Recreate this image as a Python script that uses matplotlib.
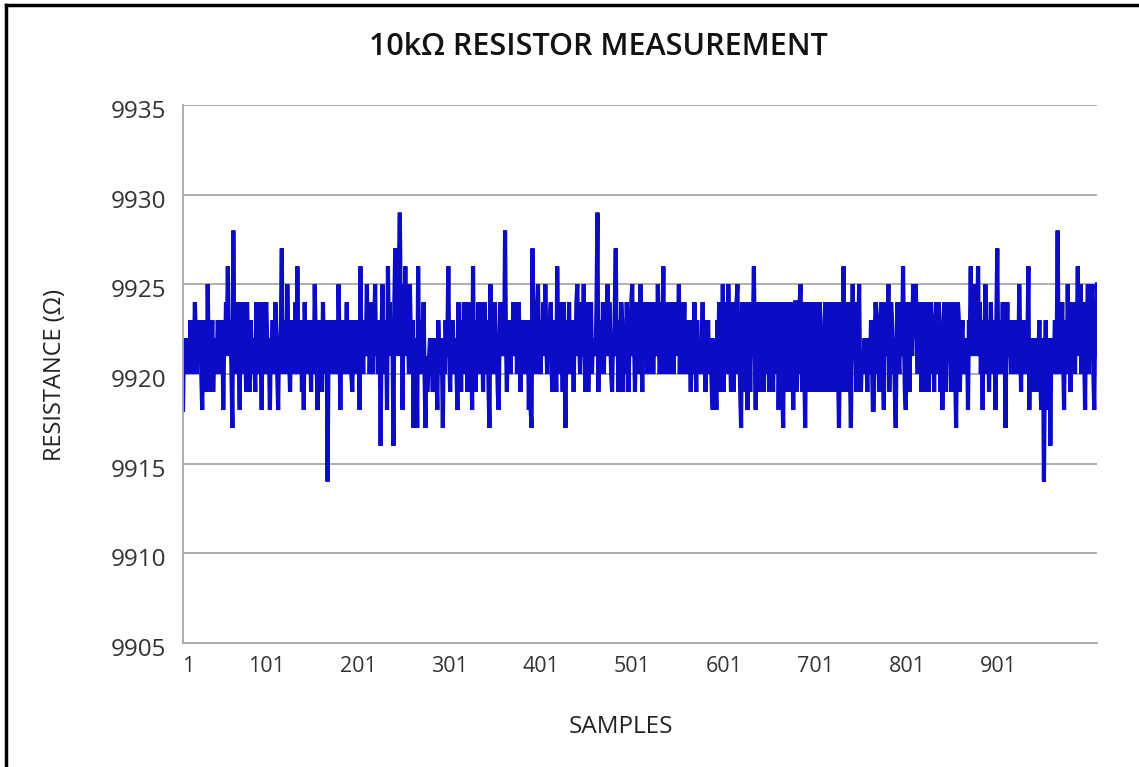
import matplotlib
matplotlib.use("Agg")
import matplotlib.pyplot as plt
from matplotlib.lines import Line2D
from matplotlib.transforms import ScaledTranslation

title = "10kΩ RESISTOR MEASUREMENT"
x_label = "SAMPLES"
y_label = "RESISTANCE (Ω)"
x_tick_values = [1, 101, 201, 301, 401, 501, 601, 701, 801, 901]
y_tick_values = [9905, 9910, 9915, 9920, 9925, 9930, 9935]

resistance = [
    9918,9922,9921,9922,9920,9922,9921,9920,9923,9921,9922,9920,9921,9924,9922,9920,9923,9921,9922,9923,9920,9918,9922,9923,9921,9920,9919,9925,9921,9919,9922,9920,9923,9919,9921,9922,9920,9921,9923,9922,9920,9922,9921,9923,9918,9922,9921,9924,9922,9926,
    9922,9921,9923,9920,9917,9928,9921,9922,9920,9923,9924,9921,9918,9924,9922,9920,9924,9921,9922,9919,9924,9922,9920,9919,9923,9921,9922,9920,9921,9919,9924,9922,9920,9924,9921,9922,9918,9924,9921,9920,9923,9924,9922,9920,9921,9918,9922,9921,9923,9920,
    9921,9924,9922,9920,9918,9922,9921,9923,9927,9920,9922,9921,9923,9920,9925,9922,9921,9919,9922,9923,9920,9922,9921,9924,9920,9926,9921,9922,9920,9923,9919,9922,9918,9924,9921,9922,9920,9923,9921,9922,9919,9923,9921,9920,9925,9922,9921,9918,9923,9921,
    9922,9920,9919,9924,9921,9922,9920,9923,9914,9921,9922,9923,9920,9922,9921,9923,9920,9922,9921,9920,9925,9922,9918,9922,9921,9923,9920,9922,9921,9924,9920,9922,9921,9923,9920,9919,9922,9921,9923,9920,9922,9921,9923,9918,9926,9921,9922,9920,9923,9921,
    9922,9925,9921,9923,9920,9922,9924,9920,9922,9923,9925,9921,9922,9920,9923,9922,9916,9922,9925,9921,9923,9920,9922,9918,9926,9922,9924,9921,9923,9922,9916,9924,9927,9922,9925,9921,9926,9929,9923,9925,9918,9924,9922,9926,9921,9924,9922,9920,9925,9922,
    9921,9923,9917,9922,9920,9921,9917,9926,9921,9922,9920,9923,9921,9924,9920,9917,9921,9919,9920,9921,9922,9920,9921,9919,9922,9920,9921,9920,9918,9923,9921,9920,9922,9921,9917,9922,9920,9923,9921,9922,9926,9921,9919,9922,9921,9923,9920,9922,9921,9920,
    9918,9924,9921,9922,9919,9923,9921,9924,9920,9924,9921,9919,9922,9924,9920,9922,9918,9926,9921,9922,9919,9923,9921,9924,9920,9924,9921,9922,9919,9923,9924,9920,9922,9923,9919,9917,9925,9921,9924,9920,9923,9924,9921,9922,9919,9918,9922,9924,9921,9922,
    9922,9921,9928,9922,9919,9923,9921,9922,9920,9923,9921,9924,9921,9922,9924,9920,9923,9924,9921,9919,9922,9921,9923,9920,9922,9921,9920,9923,9918,9922,9918,9917,9927,9921,9923,9922,9920,9924,9925,9922,9921,9920,9923,9922,9924,9921,9925,9922,9920,9923,
    9921,9923,9924,9920,9919,9922,9923,9921,9919,9926,9922,9920,9924,9921,9922,9919,9924,9921,9917,9922,9923,9921,9924,9920,9923,9921,9922,9919,9923,9921,9924,9925,9921,9922,9920,9924,9921,9922,9925,9921,9919,9922,9924,9919,9922,9921,9924,9920,9922,9921,
    9922,9921,9924,9929,9919,9922,9921,9923,9920,9924,9920,9923,9921,9922,9925,9921,9924,9922,9920,9919,9922,9921,9924,9927,9921,9922,9919,9923,9921,9924,9923,9919,9922,9920,9921,9924,9922,9919,9922,9921,9924,9925,9921,9922,9919,9922,9924,9923,9920,9922,
    9925,9922,9919,9924,9921,9922,9924,9920,9921,9924,9922,9920,9923,9924,9920,9923,9921,9924,9921,9925,9922,9920,9921,9924,9922,9926,9920,9922,9924,9921,9923,9920,9922,9924,9921,9924,9920,9923,9922,9924,9921,9922,9925,9920,9923,9924,9920,9922,9924,9920,
    9921,9923,9920,9923,9921,9919,9922,9923,9920,9924,9921,9919,9923,9920,9922,9921,9920,9922,9924,9921,9923,9919,9921,9922,9923,9920,9922,9921,9919,9918,9922,9921,9920,9918,9923,9921,9924,9919,9922,9920,9925,9919,9923,9921,9924,9920,9925,9922,9921,9919,
    9922,9924,9919,9923,9921,9924,9925,9920,9922,9919,9917,9924,9920,9923,9921,9919,9924,9918,9921,9923,9919,9924,9921,9923,9926,9921,9918,9924,9921,9923,9919,9922,9924,9920,9923,9919,9924,9921,9923,9920,9924,9919,9922,9924,9921,9919,9923,9924,9920,9922,
    9924,9918,9922,9924,9921,9919,9917,9924,9921,9923,9919,9924,9921,9922,9919,9924,9921,9918,9922,9924,9924,9919,9922,9920,9924,9925,9921,9919,9924,9921,9917,9922,9924,9921,9919,9923,9924,9920,9924,9919,9922,9920,9924,9919,9922,9921,9924,9919,9922,9919,
    9921,9923,9924,9919,9922,9921,9924,9920,9919,9922,9924,9921,9919,9922,9921,9924,9920,9917,9922,9924,9923,9919,9926,9921,9924,9919,9923,9921,9924,9920,9917,9922,9925,9921,9924,9922,9919,9924,9921,9925,9920,9919,9921,9920,9921,9922,9920,9921,9919,9922,
    9921,9920,9923,9921,9918,9918,9922,9924,9923,9920,9922,9919,9923,9924,9921,9920,9918,9922,9924,9921,9922,9925,9919,9922,9924,9923,9920,9922,9919,9917,9922,9924,9921,9920,9923,9924,9921,9926,9922,9919,9918,9922,9924,9923,9919,9922,9924,9921,9925,9922,
    9923,9925,9922,9920,9924,9921,9922,9919,9923,9924,9921,9922,9919,9924,9921,9919,9922,9924,9923,9920,9922,9919,9923,9924,9920,9922,9924,9923,9919,9922,9918,9921,9924,9922,9919,9921,9923,9924,9921,9922,9919,9923,9924,9922,9920,9917,9922,9924,9923,9919,
    9921,9922,9923,9920,9922,9921,9920,9922,9918,9923,9922,9926,9921,9924,9922,9925,9921,9923,9922,9926,9921,9924,9920,9922,9918,9923,9921,9925,9922,9920,9923,9919,9922,9924,9921,9923,9920,9922,9918,9923,9927,9921,9922,9920,9923,9921,9924,9920,9922,9917,
    9922,9924,9921,9923,9922,9920,9923,9921,9920,9922,9923,9921,9922,9920,9925,9922,9919,9923,9921,9922,9920,9923,9921,9922,9926,9918,9922,9921,9920,9922,9919,9921,9920,9922,9919,9921,9923,9920,9918,9922,9921,9914,9920,9923,9919,9921,9918,9922,9916,9921,
    9920,9922,9921,9923,9920,9922,9928,9921,9923,9920,9922,9924,9921,9918,9923,9922,9920,9925,9921,9923,9919,9924,9922,9921,9923,9920,9924,9922,9926,9921,9923,9925,9920,9924,9922,9921,9918,9924,9922,9925,9920,9923,9921,9924,9925,9920,9918,9923,9921,9925,
]
samples = list(range(1, len(resistance) + 1))

FONT = ["Open Sans", "DejaVu Sans"]
plt.rcParams["font.family"] = FONT

W, H = 1139, 767
fig = plt.figure(figsize=(W / 100, H / 100), dpi=100)
fig.patch.set_facecolor("white")

# outer frame
fig.add_artist(Line2D([6 / W, 6 / W], [0, 1 - 5 / H], color="black", lw=2.5, transform=fig.transFigure))
fig.add_artist(Line2D([6 / W, 1], [1 - 5 / H, 1 - 5 / H], color="black", lw=2.5, transform=fig.transFigure))

ax = fig.add_axes([183 / W, 1 - 643 / H, (1097 - 183) / W, (643 - 105) / H])
ax.plot(samples, resistance, color="#0C0CC6", lw=3.0, solid_joinstyle="miter")

ax.set_xlim(1, len(resistance))
ax.set_ylim(y_tick_values[0], y_tick_values[-1])
ax.set_yticks(y_tick_values)
ax.set_xticks(x_tick_values)
ax.set_xticklabels([str(v) for v in x_tick_values])
ax.yaxis.grid(True, color="#a8a8a8", lw=1.3)
ax.set_axisbelow(True)
for s in ["top", "right"]:
    ax.spines[s].set_visible(False)
for s in ["left", "bottom"]:
    ax.spines[s].set_color("#a8a8a8")
    ax.spines[s].set_linewidth(1.3)
ax.tick_params(axis="x", length=0, labelsize=15.5, labelcolor="#333333", pad=9)
ax.tick_params(axis="y", length=0, labelsize=17.5, labelcolor="#333333", pad=12)

# nudge x tick labels to their drawn positions
for i, lab in enumerate(ax.get_xticklabels()):
    dx = 5 if i == 0 else -8
    lab.set_transform(lab.get_transform() + ScaledTranslation(dx / 100, 0, fig.dpi_scale_trans))
for lab in ax.get_yticklabels():
    lab.set_transform(lab.get_transform() + ScaledTranslation(0, -4 / 100, fig.dpi_scale_trans))

fig.text(621 / W, 1 - 727 / H, x_label, ha="center", va="center", fontsize=17.5, color="#222222")
fig.text(55 / W, 1 - 375 / H, y_label, ha="center", va="center", rotation=90, fontsize=17, color="#222222")
fig.text(598 / W, 1 - 47 / H, title, ha="center", va="center", fontsize=22,
         fontweight="semibold", color="#111111")

fig.savefig("out.png", dpi=100)
